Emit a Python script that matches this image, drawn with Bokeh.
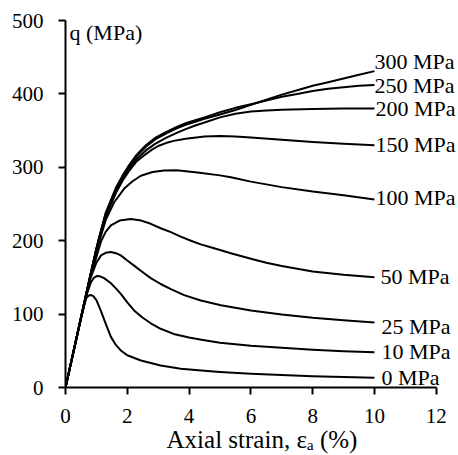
from bokeh.plotting import figure
from bokeh.models import Range1d, FixedTicker, ColumnDataSource
from bokeh.core.properties import value
from bokeh.embed import file_html
from bokeh.resources import INLINE

# ---- data ----
confinements = ["0 MPa", "10 MPa", "25 MPa", "50 MPa", "100 MPa",
                "150 MPa", "200 MPa", "250 MPa", "300 MPa"]

strain_0 = [0, 0.3, 0.55, 0.66, 0.74, 0.82, 0.9, 1.0, 1.14, 1.3, 1.47, 1.63, 1.79, 2.0, 2.44, 3.08, 3.73, 4.4, 5.0, 6.0, 7.0, 8.0, 9.0, 10]
q_0 = [0, 57, 104, 121, 125, 126, 124.5, 119, 105, 87, 69, 58, 50.5, 44, 36.8, 30, 25.6, 23, 21, 18.6, 17, 15.4, 14.2, 13.2]

strain_10 = [0, 0.5, 0.7, 0.82, 0.92, 1.02, 1.12, 1.25, 1.47, 1.63, 1.79, 2.0, 2.22, 2.5, 2.76, 3.08, 3.5, 4.0, 4.4, 5.0, 6.0, 7.0, 8.0, 9.0, 10]
q_10 = [0, 94, 128, 143, 149.5, 152, 151.5, 149, 142, 135, 127.6, 116, 105, 95, 87.5, 80, 73, 68, 65, 61, 57, 54, 51.3, 49.5, 48]

strain_25 = [0, 0.5, 0.8, 1.0, 1.15, 1.3, 1.47, 1.63, 1.79, 2.0, 2.22, 2.5, 2.76, 3.08, 3.41, 3.84, 4.38, 5.03, 6.0, 7.0, 8.0, 9.0, 10]
q_25 = [0, 94, 148, 170, 180, 183.5, 184.5, 183, 180, 173, 166, 157, 149, 141, 134, 125.8, 118.5, 112, 105, 99.5, 95, 91.5, 88.6]

strain_50 = [0, 0.5, 0.8, 1.0, 1.15, 1.3, 1.47, 1.75, 2.11, 2.4, 2.76, 3.08, 3.41, 3.73, 4.06, 4.38, 4.7, 5.03, 5.35, 6.0, 6.5, 7.0, 8.0, 9.0, 10]
q_50 = [0, 94, 149, 178, 199, 212, 221, 227.5, 229.5, 228, 223, 217, 211.6, 205.5, 200, 195, 191, 187, 183, 175.5, 170, 165.5, 158, 153.5, 150.3]

strain_100 = [0, 0.5, 0.8, 1.0, 1.3, 1.57, 1.9, 2.17, 2.44, 2.82, 3.19, 3.6, 4.27, 5.0, 5.35, 6.0, 7.0, 8.0, 9.0, 10]
q_100 = [0, 95, 151, 186, 228, 252, 271, 281, 288.5, 293.5, 295.6, 296, 293, 289, 286.5, 280.5, 273, 267, 262, 256]

strain_150 = [0, 0.5, 0.8, 1.0, 1.3, 1.63, 1.85, 2.06, 2.3, 2.6, 2.8, 3.0, 3.25, 3.5, 3.89, 4.5, 5.0, 5.5, 6.0, 7.0, 8.0, 9.0, 10]
q_150 = [0, 95, 152, 188, 233, 265, 282, 295, 308, 318, 324, 329, 333, 336, 339, 342, 342.5, 342, 340.5, 337.5, 334.5, 332, 330]

strain_200 = [0, 0.5, 0.8, 1.0, 1.3, 1.63, 1.85, 2.06, 2.3, 2.6, 2.9, 3.25, 3.6, 3.89, 4.2, 4.5, 5.0, 5.5, 6.0, 6.5, 7.0, 8.0, 9.0, 10]
q_200 = [0, 95, 152, 189, 235, 268, 285, 298, 311, 323, 332, 340, 347, 352, 357, 361, 368, 373, 376, 377.5, 378.5, 379.5, 380, 380]

strain_250 = [0, 0.5, 0.8, 1.0, 1.1, 1.3, 1.63, 1.85, 2.06, 2.3, 2.6, 2.9, 3.25, 3.6, 3.89, 4.2, 4.5, 5.0, 5.5, 6.0, 6.5, 7.0, 7.5, 8.0, 8.5, 9.0, 9.5, 10]
q_250 = [0, 95, 152, 189, 206, 238, 272, 289, 303, 317, 330, 340, 348, 355, 360, 364, 368, 375, 381, 386, 391, 396, 400, 404, 407, 409, 411, 412]

strain_300 = [0, 0.5, 0.8, 1.0, 1.1, 1.3, 1.63, 1.85, 2.06, 2.3, 2.6, 2.9, 3.25, 3.6, 3.89, 4.2, 4.5, 5.0, 5.5, 6.0, 6.5, 7.0, 7.5, 8.0, 8.5, 9.0, 9.5, 10]
q_300 = [0, 95, 152, 189, 206, 236, 270, 287, 301, 315, 328, 338, 346, 353, 358, 362, 366, 372, 378, 385, 392, 399, 405, 411, 416, 421, 426, 431]

label_x = [10, 10, 10, 10, 10, 10, 10, 10, 10]
label_y = [13.6, 49, 83, 151, 259, 331, 380, 411, 444]

x_ticks = [0, 2, 4, 6, 8, 10, 12]
y_ticks = [0, 100, 200, 300, 400, 500]

series = [(strain_0, q_0), (strain_10, q_10), (strain_25, q_25), (strain_50, q_50),
          (strain_100, q_100), (strain_150, q_150), (strain_200, q_200),
          (strain_250, q_250), (strain_300, q_300)]

# ---- figure ----
FONT = "Liberation Serif"
p = figure(width=458, height=455, output_backend="svg", toolbar_location=None,
           x_range=Range1d(0, 12.72), y_range=Range1d(0, 500),
           min_border_left=65, min_border_right=0, min_border_top=20, min_border_bottom=68)
p.outline_line_color = None
p.grid.visible = False
p.background_fill_color = "white"
p.border_fill_color = "white"

for xs, ys in series:
    p.line(xs, ys, line_color="black", line_width=2, line_join="round")

label_offsets = [7, 7, 7, 6, 1, 1, 1, 0, 0]
src = ColumnDataSource(dict(x=label_x, y=label_y, text=confinements, dx=label_offsets))
p.text(x="x", y="y", text="text", x_offset="dx", source=src,
       text_font=value(FONT), text_font_size="22px", text_color="black",
       text_baseline="middle", text_align="left")

p.text(x=[0.13], y=[483], text=["q (MPa)"], text_font=value(FONT), text_font_size="22px",
       text_color="black", text_baseline="middle", text_align="left")

for ax in (p.xaxis[0], p.yaxis[0]):
    ax.axis_line_width = 2
    ax.axis_line_color = "black"
    ax.major_tick_line_width = 2
    ax.major_tick_line_color = "black"
    ax.major_tick_out = 7
    ax.major_tick_in = 0
    ax.minor_tick_out = 0
    ax.minor_tick_in = 0
    ax.major_label_text_font = FONT
    ax.major_label_text_font_size = "21px"
    ax.major_label_text_color = "black"

p.xaxis.ticker = FixedTicker(ticks=x_ticks)
p.yaxis.ticker = FixedTicker(ticks=y_ticks)
p.xaxis.bounds = (0, 12)
p.xaxis.major_label_standoff = 14
p.yaxis.major_label_standoff = 15
p.xaxis.axis_label = "Axial strain, εₐ (%)"
p.xaxis.axis_label_text_font = FONT
p.xaxis.axis_label_text_font_size = "25px"
p.xaxis.axis_label_text_font_style = "normal"
p.xaxis.axis_label_text_color = "black"
p.xaxis.axis_label_standoff = 0

open("out.html", "w").write(file_html(p, INLINE))
